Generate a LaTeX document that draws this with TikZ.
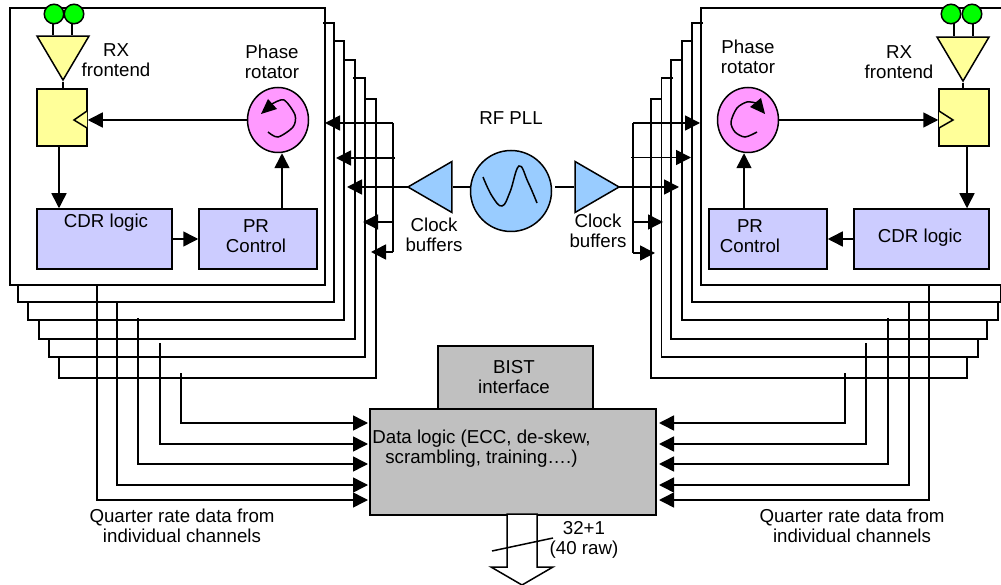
\documentclass[tikz,border=0pt]{standalone}
\usepackage{fontspec}
\setmainfont{Liberation Sans}
\usetikzlibrary{shapes.geometric,arrows.meta}
\definecolor{flopyellow}{HTML}{FFFF99}
\definecolor{logicblue}{HTML}{CCCCFF}
\definecolor{rotpink}{HTML}{FF99FF}
\definecolor{pllblue}{HTML}{99CCFF}
\definecolor{padgreen}{HTML}{00FF00}
\definecolor{datagray}{HTML}{C0C0C0}
\tikzset{
  every node/.style={font=\fontsize{18.7}{20}\selectfont,align=center},
  wire/.style={line width=1.5pt},
  flow/.style={wire,-{Triangle[length=15pt,width=15pt]}},
  frame/.style={draw,line width=1.5pt,minimum height=277pt},
  logic/.style={draw,line width=1.5pt,fill=logicblue,minimum height=60pt},
  flop/.style={draw,line width=1.5pt,fill=flopyellow,minimum width=50pt,minimum height=57pt},
  rotator/.style={ellipse,draw,line width=1.5pt,fill=rotpink,minimum width=61pt,minimum height=65pt,inner sep=0pt},
  pad/.style={circle,draw,line width=1.5pt,fill=padgreen,minimum size=19.5pt,inner sep=0pt},
  amp/.style={isosceles triangle,isosceles triangle stretches,draw,line width=1.5pt,inner sep=0pt,anchor=apex},
  rxamp/.style={amp,fill=flopyellow,shape border rotate=270,minimum height=44pt,minimum width=52pt},
  clkbuf/.style={amp,fill=pllblue,minimum height=44pt,minimum width=51pt},
  gray block/.style={draw,line width=1.5pt,fill=datagray}
}
\begin{document}
\begin{tikzpicture}[x=1pt,y=-1pt]
  \clip (0,0) rectangle (1001,585);
  % channel stacks
  \node[frame,minimum width=315pt] (frameL) at (167.5,146.5) {};
  \node[frame,minimum width=311pt] (frameR) at (856.5,146.5) {};
  \foreach \xs/\xr/\ya/\yb/\xl/\yc in {323/334/23/302/18/284,334/344/41/320/28/302,344/355/60/339/39/320,353/365/78/357/49/339,364/376/99/378/59/357}
    \draw[wire] (\xs,\ya) -- (\xr,\ya) -- (\xr,\yb) -- (\xl,\yb) -- (\xl,\yc);
  \foreach \xs/\xr/\ya/\yb/\xl/\yc in {703/692/23/302/1000.5/285,693/682/41/320/998/302,683/671/60/339/987/320,673/661.5/78/357/978/339,661/651/99/378/967/357}
    \draw[wire] (\xs,\ya) -- (\xr,\ya) -- (\xr,\yb) -- (\xl,\yb) -- (\xl,\yc);

  % left channel
  \node[pad] (padLa) at (54,14) {};
  \node[pad] (padLb) at (74,14) {};
  \node[rxamp] (rxL) at (63,82) {};
  \node[flop] (flopL) at (62,117.5) {};
  \node[rotator] (phaseL) at (278,120) {};
  \node[logic,minimum width=135pt] (cdrL) at (104.5,239) {};
  \node[logic,minimum width=118pt] (prL) at (258,239) {};
  \node (rxtextL) at (116,60) {RX\\frontend};
  \node (phasetextL) at (272,62) {Phase\\rotator};
  \node (cdrtextL) at (106,223) {CDR logic};
  \node (prtextL) at (256,236) {PR\\Control};
  \draw[wire] ([xshift=-1pt]padLa.south) -- ([xshift=-1pt]padLa.south |- rxL.lower side);
  \draw[wire] ([xshift=-2pt]padLb.south) -- ([xshift=-2pt]padLb.south |- rxL.lower side);
  \draw[wire] (rxL.apex) -- (rxL.apex |- flopL.north);
  \draw[wire,fill=flopyellow] (87,111) -- (74,120) -- (87,128);
  \draw[flow] (phaseL.west) -- (phaseL.west -| flopL.east);
  \draw[flow] ([xshift=-3pt]flopL.south) -- ([xshift=-3pt]flopL.south |- cdrL.north);
  \draw[flow] (cdrL.east) -- (prL.west);
  \draw[flow] ([xshift=24pt]prL.north) -- ([xshift=24pt]prL.north |- phaseL.south);
  \draw[wire] plot[smooth] coordinates {(272,104) (284,100) (295,115) (293,127) (278,137) (268,132)};
  \fill (261,114) -- (268,99) -- (277,109) -- cycle;

  % right channel
  \node[pad] (padRa) at (951,14) {};
  \node[pad] (padRb) at (972,14) {};
  \node[rxamp] (rxR) at (963,83) {};
  \node[flop] (flopR) at (964,117.5) {};
  \node[rotator] (phaseR) at (748,120) {};
  \node[logic,minimum width=135pt] (cdrR) at (921.5,239) {};
  \node[logic,minimum width=118pt] (prR) at (768,239) {};
  \node (rxtextR) at (899,62) {RX\\frontend};
  \node (phasetextR) at (748,57) {Phase\\rotator};
  \node (cdrtextR) at (920,238) {CDR logic};
  \node (prtextR) at (750,236) {PR\\Control};
  \draw[wire] ([xshift=3pt]padRa.south) -- ([xshift=3pt]padRa.south |- rxR.lower side);
  \draw[wire] ([xshift=1pt]padRb.south) -- ([xshift=1pt]padRb.south |- rxR.lower side);
  \draw[wire] (rxR.apex) -- (rxR.apex |- flopR.north);
  \draw[wire,fill=flopyellow] (939,111) -- (953,120) -- (939,128);
  \draw[flow] (phaseR.east) -- (phaseR.east -| flopR.west);
  \draw[flow] ([xshift=3pt]flopR.south) -- ([xshift=3pt]flopR.south |- cdrR.north);
  \draw[flow] (cdrR.west) -- (prR.east);
  \draw[flow] ([xshift=-24pt]prR.north) -- ([xshift=-24pt]prR.north |- phaseR.south);
  \draw[wire] plot[smooth] coordinates {(757,132) (745,137) (735,132) (731,122) (737,108) (747,102) (756,103)};
  \fill (761,98) -- (765,114) -- (750,107) -- cycle;

  % clock distribution
  \node[circle,draw,line width=1.5pt,fill=pllblue,minimum size=81pt,inner sep=0pt] (pll) at (511,191) {};
  \node[clkbuf,shape border rotate=180] (bufL) at (406,187) {};
  \node[clkbuf] (bufR) at (621,187) {};
  \node (plltext) at (511,118) {RF PLL};
  \node (buftextL) at (434,235) {Clock\\buffers};
  \node (buftextR) at (598,231) {Clock\\buffers};
  \draw[wire] plot[smooth,tension=0.7] coordinates {(483,177) (492,196) (502,206) (510,192) (519,166) (528,182) (537,203)};
  \coordinate (gapR) at (555,187);
  \draw[wire] (pll.west |- bufL.lower side) -- (bufL.lower side);
  \draw[wire] (gapR) -- (bufR.lower side);
  \coordinate (busLa) at (393,123);
  \coordinate (busLb) at (393,252);
  \coordinate (busRa) at (633,123);
  \coordinate (busRb) at (633,253);
  \draw[wire] (busLa) -- (busLb);
  \draw[wire] (busRa) -- (busRb);
  \foreach \n/\y/\tip/\from in {a/123/325/393,b/158/336/395,c/187/347/408,d/222/363/393,e/252/371/393} {
    \coordinate (clkL\n) at (\from,\y);
    \coordinate (tipL\n) at (\tip,\y);
    \draw[flow] (clkL\n) -- (tipL\n);
  }
  \foreach \n/\y/\tip/\from in {a/123/700/633,b/157.5/691/631,c/187/679/619,d/222/663/633,e/253/655/633} {
    \coordinate (clkR\n) at (\from,\y);
    \coordinate (tipR\n) at (\tip,\y);
    \draw[flow] (clkR\n) -- (tipR\n);
  }

  % data logic
  \node[gray block,minimum width=155pt,minimum height=64pt] (bist) at (515.5,378) {};
  \node (bisttext) at (514,377) {BIST\\interface};
  \node[gray block,minimum width=286pt,minimum height=106pt] (data) at (513,462) {};
  \node (datatext) at (481.5,449) {Data logic (ECC, de-skew,\\scrambling, training….)};
  \foreach \n/\x/\ys/\y in {a/97/285/500,b/117/302/485,c/138/318/464,d/160/343/444,e/181/373/423} {
    \coordinate (rawL\n) at (\x,\ys);
    \coordinate (inL\n) at (368,\y);
    \draw[flow] (rawL\n) |- (inL\n);
  }
  \foreach \n/\x/\ys/\y in {a/929/285/500,b/909/302/485,c/888/318/464,d/866/343/444,e/845/373/423} {
    \coordinate (rawR\n) at (\x,\ys);
    \coordinate (inR\n) at (659,\y);
    \draw[flow] (rawR\n) |- (inR\n);
  }
  \node (qtextL) at (182,526) {Quarter rate data from\\individual channels};
  \node (qtextR) at (852,526) {Quarter rate data from\\individual channels};

  % output bus
  \draw[wire,fill=white] (507,514) -- (537,514) -- (537,567) -- (553,567) -- (522,585) -- (491,567) -- (507,567) -- cycle;
  \draw[wire] (492,551) -- (553,538);
  \node (bustext) at (584,540) {32+1\\(40 raw)};
\end{tikzpicture}
\end{document}
